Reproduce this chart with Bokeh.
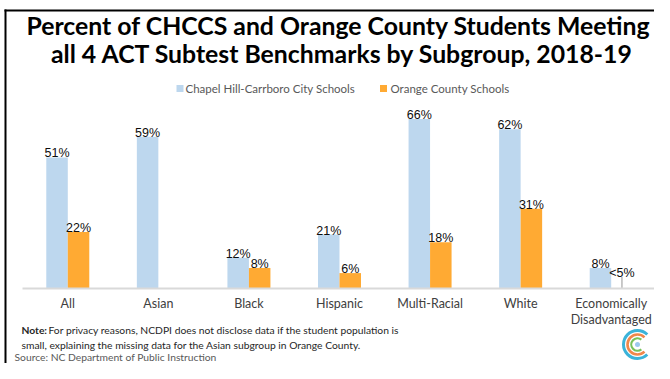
import numpy as np
from bokeh.plotting import figure
from bokeh.models import Range1d, ColumnDataSource
from bokeh.transform import dodge
from bokeh.core.properties import value
from bokeh.embed import file_html
from bokeh.resources import INLINE

# ---------------- data ----------------
categories = ["All", "Asian", "Black", "Hispanic", "Multi-Racial", "White",
              "Economically\nDisadvantaged"]
chccs = [51, 59, 12, 21, 66, 62, 8]
ocs = [22, None, 8, 6, 18, 31, None]
chccs_labels = ["51%", "59%", "12%", "21%", "66%", "62%", "8%"]
ocs_labels = ["22%", "", "8%", "6%", "18%", "31%", "<5%"]
ocs_suppressed_marker = [None, None, None, None, None, None, 4.5]  # thin marker shown for "<5%"
series_names = ["Chapel Hill-Carrboro City Schools", "Orange County Schools"]
series_colors = ["#BDD7EE", "#FFAA33"]
title_lines = ["Percent of CHCCS and Orange County Students Meeting",
               "all 4 ACT Subtest Benchmarks by Subgroup, 2018-19"]
note_lead = "Note:"
note_lines = ["For privacy reasons, NCDPI does not disclose data if the student population is",
              "small, explaining the missing data for the Asian subgroup in Orange County."]
source_text = "Source: NC Department of Public Instruction"

# ---------------- derived ----------------
nanify = lambda a: np.array([np.nan if v is None else v for v in a], dtype=float)
xs = [i + 0.5 for i in range(len(categories))]
first_line = [c.split("\n")[0] for c in categories]
second_line = [c.split("\n")[1] if "\n" in c else "" for c in categories]
ocs_arr = nanify(ocs)
marker_arr = nanify(ocs_suppressed_marker)
ocs_label_y = np.where(np.isnan(ocs_arr), marker_arr, ocs_arr)

src = ColumnDataSource(dict(
    x=xs, cat1=first_line, cat2=second_line,
    chccs=chccs, ocs=ocs_arr, marker=marker_arr,
    chccs_lab=chccs_labels, ocs_lab=ocs_labels, ocs_lab_y=ocs_label_y,
))

W, H = 654, 363
p = figure(width=W, height=H, x_range=Range1d(0, W), y_range=Range1d(0, H),
           output_backend="svg", toolbar_location=None, min_border=0,
           x_axis_location=None, y_axis_location=None,
           outline_line_color=None, background_fill_color="white")
p.grid.visible = False
p.extra_x_ranges = {"cat": Range1d(-0.2429, 6.978)}
p.extra_y_ranges = {"pct": Range1d(-29.18, 112.06)}

BW = 0.2374
OFF = 0.1187
CAL = "Lato"
ARIAL = "Liberation Sans"

# bars
p.vbar(x=dodge("x", -OFF), top="chccs", bottom=0, width=BW, source=src,
       fill_color=series_colors[0], line_color=None,
       x_range_name="cat", y_range_name="pct")
p.vbar(x=dodge("x", OFF), top="ocs", bottom=0, width=BW, source=src,
       fill_color=series_colors[1], line_color=None,
       x_range_name="cat", y_range_name="pct")
p.segment(x0=dodge("x", OFF), y0=0, x1=dodge("x", OFF), y1="marker", source=src,
          line_color="#A6A6A6", line_width=1.2,
          x_range_name="cat", y_range_name="pct")

# baseline axis
p.segment(x0=[0], y0=[0], x1=[len(categories)], y1=[0], line_color="#D9D9D9",
          line_width=2, x_range_name="cat", y_range_name="pct")

# data labels
lab_kw = dict(text_align="center", text_baseline="alphabetic", y_offset=-4,
              text_font=value(ARIAL), text_font_size="12.5px", text_color="#0d0d0d",
              x_range_name="cat", y_range_name="pct", source=src)
p.text(x=dodge("x", -OFF), y="chccs", text="chccs_lab", **lab_kw)
p.text(x=dodge("x", OFF), y="ocs_lab_y", text="ocs_lab", **lab_kw)

# category labels
cat_kw = dict(text_align="center", text_baseline="alphabetic",
              text_font=value(CAL), text_font_size="12.5px", text_color="#404040",
              x_range_name="cat", y_range_name="pct", source=src)
p.text(x="x", y=0, text="cat1", y_offset=15, **cat_kw)
p.text(x="x", y=0, text="cat2", y_offset=31, **cat_kw)

# ---------------- decorations (pixel space, y measured up from the bottom) ----------------
p.text(x=[338, 342], y=[338, 310], text=title_lines, text_align="center",
       text_baseline="alphabetic", text_font=value(CAL), text_font_style="bold",
       text_font_size="24.8px", text_color="#000000")

# legend
p.scatter(x=[179.5, 383], y=[275, 275], marker="square", size=7,
          fill_color=series_colors, line_color=None)
p.text(x=[185, 390], y=[275, 275], text=series_names, text_align="left",
       text_baseline="middle", text_font=value(CAL), text_font_size="11.5px",
       text_color="#595959")

# note and source
p.text(x=[21], y=[34], text=[note_lead], text_align="left", text_baseline="alphabetic",
       text_font=value(CAL), text_font_style="bold", text_font_size="10.3px",
       text_color="#262626")
p.text(x=[48, 21], y=[34, 19], text=note_lines, text_align="left",
       text_baseline="alphabetic", text_font=value(CAL), text_font_size="10.3px",
       text_color="#262626")
p.text(x=[14], y=[7], text=[source_text], text_align="left", text_baseline="alphabetic",
       text_font=value(CAL), text_font_size="10.3px", text_color="#595959")

# frame border (top and left)
p.segment(x0=[4, 5], y0=[353, 0], x1=[W, 5], y1=[353, 354], line_color="#000000",
          line_width=2)

# logo
cx, cy = 637, 19
p.arc(x=[cx, cx, cx], y=[cy, cy, cy], radius=[14, 10, 6.2],
      start_angle=[0.8, 0.8, 0.9], end_angle=[-0.8, -0.8, -0.9],
      direction="anticlock", line_color=["#3BB3D9", "#F0874A", "#78C25A"],
      line_width=[3, 2.6, 2.2])
p.scatter(x=[cx], y=[cy], size=5, fill_color="#9CC9EE", line_color=None)

open("out.html", "w").write(file_html(p, INLINE))
